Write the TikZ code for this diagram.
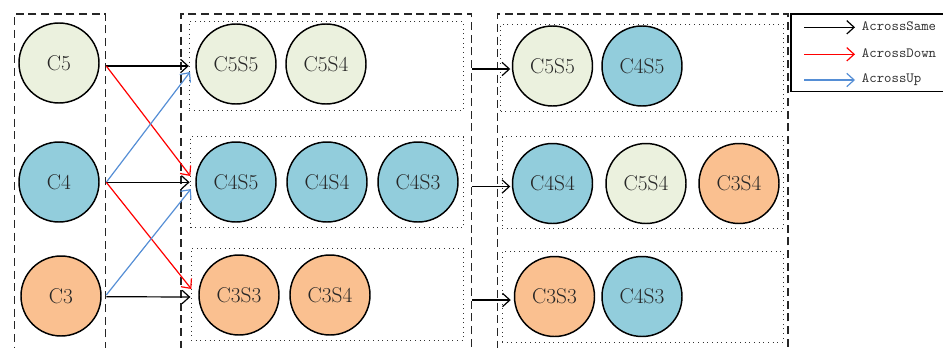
\documentclass[tikz,border=0pt]{standalone}
\usetikzlibrary{arrows.meta,calc,fit}
\definecolor{cg}{HTML}{EBF1DE}
\definecolor{cb}{HTML}{92CDDC}
\definecolor{co}{HTML}{FAC090}
\definecolor{bl}{HTML}{558ED5}
\begin{document}
\begin{tikzpicture}[x=0.75pt,y=-0.75pt,
  cnode/.style={circle, draw, line width=1.1pt, minimum size=60pt, inner sep=0pt,
    font=\fontsize{16}{19}\selectfont, text=black!85},
  gr/.style={cnode, fill=cg}, bu/.style={cnode, fill=cb}, og/.style={cnode, fill=co},
  dashbox/.style={draw, dash pattern=on 6pt off 3.5pt, line width=0.9pt, inner sep=0pt, black!85},
  dotbox/.style={draw, dash pattern=on 0.7pt off 2.8pt, line width=0.7pt, inner sep=0pt, black!80},
  arr/.style={line width=0.9pt, -{Straight Barb[length=5.5pt,width=10pt]}},
  arrSame/.style={arr, black},
  arrDown/.style={arr, red},
  arrUp/.style={arr, bl},
  legtext/.style={anchor=west, inner xsep=5pt, font=\ttfamily\fontsize{10.6}{12}\selectfont, text=black!80}]
\clip (0,0) rectangle (943,347);
% boxes
\node[dashbox, fit={(14.3,14) (105.7,360)}] (L) {};
\node[dashbox, fit={(181,14) (471.7,360)}] (M) {};
\node[dashbox, fit={(497.3,14) (788,360)}] (R) {};
\node[dotbox, fit={(189.3,21.7) (463.5,110)}] (M1) {};
\node[dotbox, fit={(190.5,136.5) (463.5,227.7)}] (M2) {};
\node[dotbox, fit={(191,248.5) (463.5,340)}] (M3) {};
\node[dotbox, fit={(500.7,24) (783,111)}] (R1) {};
\node[dotbox, fit={(502,136.7) (783,228.5)}] (R2) {};
\node[dotbox, fit={(502,251.7) (783,342.3)}] (R3) {};
% left column
\node[gr] (L5) at (59,63) {C5};
\node[bu] (L4) at (59,182) {C4};
\node[og] (L3) at (61,296) {C3};
% middle
\node[gr] (M55) at (236,64) {C5S5};
\node[gr] (M54) at (326,64) {C5S4};
\node[bu] (M45) at (236,182) {C4S5};
\node[bu] (M44) at (327,182) {C4S4};
\node[bu] (M43) at (418,182) {C4S3};
\node[og] (M33) at (239,295) {C3S3};
\node[og] (M34) at (330,295) {C3S4};
% right
\node[gr] (R55) at (552.5,66) {C5S5};
\node[bu] (R45) at (642,66) {C4S5};
\node[bu] (R44) at (552.5,183.5) {C4S4};
\node[gr] (R54) at (646,183.5) {C5S4};
\node[og] (R34) at (739,183.5) {C3S4};
\node[og] (R33) at (554.5,296.5) {C3S3};
\node[bu] (R43) at (642,296.5) {C4S3};
% arrows left -> middle
\draw[arrSame] ($(L5 -| L.east)+(0,3)$) -- ($(M55 -| M1.west)+(0,2)$);
\draw[arrDown] ($(L5 -| L.east)+(0,3)$) -- ($(M45 -| M1.west)+(1.5,-6)$);
\draw[arrUp]   ($(L4 -| L.east)+(0,0.3)$) -- ($(M55 -| M1.west)+(1.2,8)$);
\draw[arrSame] ($(L4 -| L.east)+(0,0.3)$) -- ($(M45 -| M1.west)+(0.8,0.3)$);
\draw[arrDown] ($(L4 -| L.east)+(0,0.3)$) -- ($(M33 -| M1.west)+(2.5,-6)$);
\draw[arrUp]   ($(L3 -| L.east)+(0,-1)$) -- ($(M45 -| M1.west)+(2,7)$);
\draw[arrSame] ($(L3 -| L.east)+(0,0.7)$) -- ($(M33 -| M1.west)+(1.5,2)$);
% arrows middle -> right
\draw[arrSame] ($(R55 -| M.east)+(0,3)$) -- ($(R55.west)+(-1.5,3)$);
\draw[arrSame] ($(R44 -| M.east)+(0,3)$) -- ($(R44.west)+(-1.5,3)$);
\draw[arrSame] ($(R33 -| M.east)+(0,3.5)$) -- ($(R33.west)+(-3,3.5)$);
% legend
\node[draw, line width=0.9pt, inner sep=0pt, fit={(791,14) (960,91.7)}] (Leg) {};
\coordinate (la1) at (804,27.3);
\coordinate (la2) at (804,54.3);
\coordinate (la3) at (804,80);
\node[legtext] (t1) at (855,26.5) {AcrossSame};
\node[legtext] (t2) at (855,53.5) {AcrossDown};
\node[legtext] (t3) at (855,79.2) {AcrossUp};
\draw[arrSame] (la1) -- (la1 -| t1.west);
\draw[arrDown] (la2) -- (la2 -| t2.west);
\draw[arrUp] (la3) -- (la3 -| t3.west);
\end{tikzpicture}
\end{document}
